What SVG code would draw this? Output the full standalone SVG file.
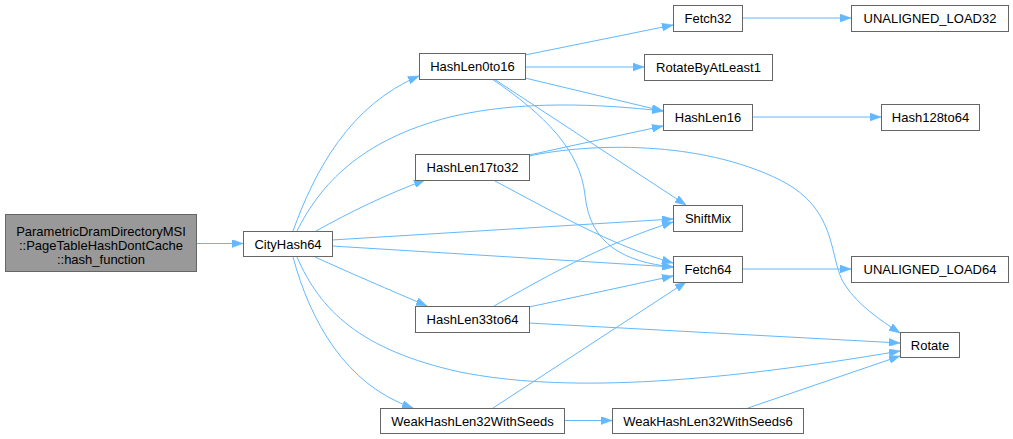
<svg xmlns="http://www.w3.org/2000/svg" width="1013" height="439" viewBox="0 0 1013 439">
<style>
.n rect{fill:#fff;stroke:#666;stroke-width:1}
.n text{font-family:"Liberation Sans",Arial,sans-serif;font-size:13px;fill:#000;text-anchor:middle}
.e path{fill:none;stroke:#63b8ff;stroke-width:1;marker-end:url(#a)}
</style>
<defs>
<marker id="a" markerUnits="userSpaceOnUse" markerWidth="11" markerHeight="8" refX="11" refY="4" orient="auto">
<path d="M0,0 L11,4 L0,8 z" fill="#63b8ff" stroke="#63b8ff" stroke-width="0.5"/>
</marker>
</defs>
<rect width="1013" height="439" fill="#fff"/>
<g class="e" id="edges">
<path d="M196,243.5 L243,243.5"/>
<path d="M293,231 C315,170 350,105 419,76"/>
<path d="M297,231 C320,185 360,140 450,117 C520,100 600,104 663,111"/>
<path d="M316,231 C350,212 385,195 425,180"/>
<path d="M332,240 L673,219"/>
<path d="M332,246 L673,267"/>
<path d="M315,257 C350,273 390,290 427,306"/>
<path d="M297,257 C320,310 360,350 460,372 C560,392 700,385 900,351"/>
<path d="M293,257 C310,320 345,385 413,408"/>
<path d="M525,55 L673,25"/>
<path d="M525,67 L644,67"/>
<path d="M525,78 L663,111"/>
<path d="M494,79 L686,205"/>
<path d="M492,79 C545,115 580,150 585,195 C590,245 625,262 673,267"/>
<path d="M742,18 L851,18"/>
<path d="M752,117 L881,117"/>
<path d="M529,155 L663,126"/>
<path d="M529,156 C590,143 700,140 780,180 C840,210 828,260 845,285 C858,305 880,320 900,333"/>
<path d="M495,181 C550,210 610,245 673,263"/>
<path d="M494,306 C540,280 600,245 673,222"/>
<path d="M529,307 L673,276"/>
<path d="M529,323 L900,343"/>
<path d="M493,408 L686,282"/>
<path d="M564,420.5 L612,420.5"/>
<path d="M748,408 L900,356"/>
<path d="M742,269 L851,269"/>
</g>
<g class="n" id="root"><rect x="5.5" y="214.5" width="191" height="57" style="fill:#999"/><text x="101" y="236">ParametricDramDirectoryMSI</text><text x="101" y="250">::PageTableHashDontCache</text><text x="101" y="264">::hash_function</text></g>
<g class="n" id="CityHash64"><rect x="243.5" y="231.5" width="89" height="25"/><text x="288" y="248.5">CityHash64</text></g>
<g class="n" id="HashLen0to16"><rect x="419.5" y="53.5" width="106" height="26"/><text x="472.5" y="71">HashLen0to16</text></g>
<g class="n" id="HashLen17to32"><rect x="415.5" y="154.5" width="114" height="26"/><text x="472.5" y="172">HashLen17to32</text></g>
<g class="n" id="HashLen33to64"><rect x="415.5" y="306.5" width="114" height="26"/><text x="472.5" y="324">HashLen33to64</text></g>
<g class="n" id="WeakHashLen32WithSeeds"><rect x="380.5" y="408.5" width="184" height="25"/><text x="472.5" y="425.5">WeakHashLen32WithSeeds</text></g>
<g class="n" id="Fetch32"><rect x="673.5" y="5.5" width="69" height="26"/><text x="708" y="23">Fetch32</text></g>
<g class="n" id="RotateByAtLeast1"><rect x="644.5" y="54.5" width="128" height="26"/><text x="708.5" y="72">RotateByAtLeast1</text></g>
<g class="n" id="HashLen16"><rect x="663.5" y="104.5" width="89" height="26"/><text x="708" y="122">HashLen16</text></g>
<g class="n" id="ShiftMix"><rect x="673.5" y="205.5" width="69" height="26"/><text x="708" y="223">ShiftMix</text></g>
<g class="n" id="Fetch64"><rect x="673.5" y="256.5" width="69" height="26"/><text x="708" y="274">Fetch64</text></g>
<g class="n" id="WeakHashLen32WithSeeds6"><rect x="612.5" y="408.5" width="191" height="25"/><text x="708" y="425.5">WeakHashLen32WithSeeds6</text></g>
<g class="n" id="UNALIGNED_LOAD32"><rect x="851.5" y="5.5" width="157" height="26"/><text x="930" y="23">UNALIGNED_LOAD32</text></g>
<g class="n" id="Hash128to64"><rect x="881.5" y="104.5" width="98" height="26"/><text x="930.5" y="122">Hash128to64</text></g>
<g class="n" id="UNALIGNED_LOAD64"><rect x="851.5" y="256.5" width="157" height="26"/><text x="930" y="274">UNALIGNED_LOAD64</text></g>
<g class="n" id="Rotate"><rect x="900.5" y="332.5" width="59" height="25"/><text x="930" y="349.5">Rotate</text></g>
</svg>
